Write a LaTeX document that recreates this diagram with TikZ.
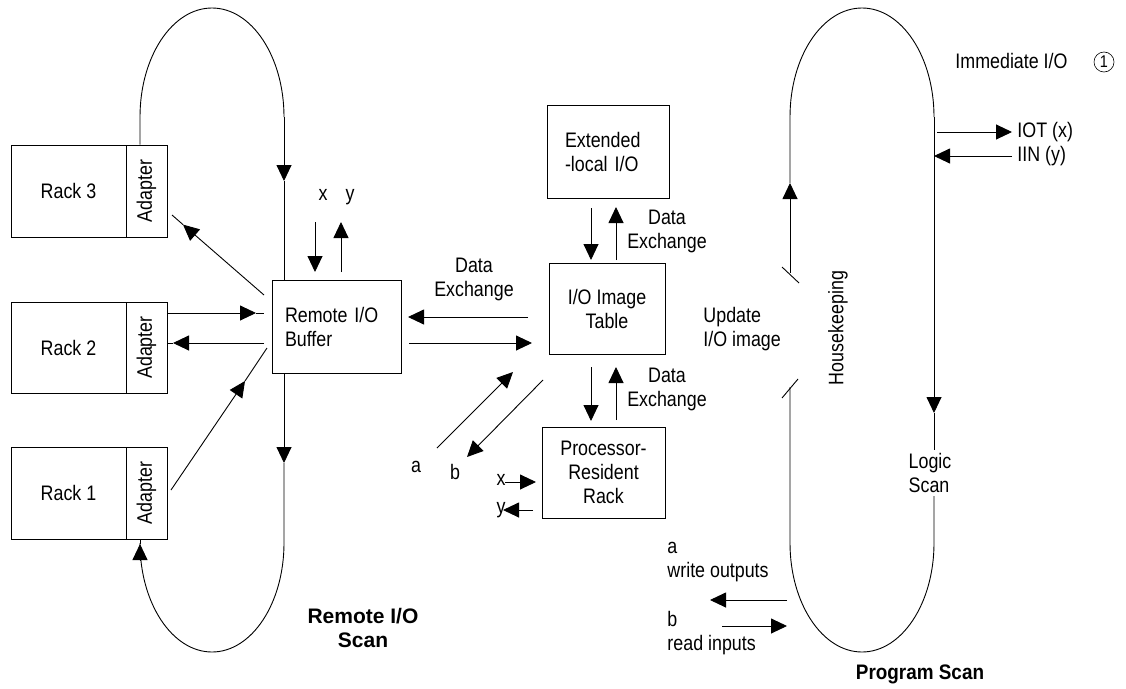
\documentclass[tikz,border=0pt]{standalone}
\usepackage{fontspec}
\setmainfont[FakeStretch=0.85]{Liberation Sans}
\newfontfamily\boldA{Liberation Sans Bold}
\newfontfamily\boldB[FakeStretch=0.9]{Liberation Sans Bold}
\usetikzlibrary{arrows.meta}
\begin{document}
\begin{tikzpicture}[x=1pt,y=-1pt,
  font=\fontsize{21}{24}\selectfont,
  line width=0.9pt,
  box/.style={draw, rectangle, inner sep=0pt, align=center},
  arr/.style={-{Triangle[length=16pt,width=15pt]}},
  lbl/.style={inner sep=0pt}]
\useasboundingbox (0,0) rectangle (1126,688);

% ---------- racks ----------
\node[box, minimum width=115pt, minimum height=92pt] (r3) at (68.5,191) {Rack 3};
\node[box, minimum width=41pt, minimum height=92pt] (a3) at (146.5,191) {\rotatebox{90}{Adapter}};
\node[box, minimum width=115pt, minimum height=91pt] (r2) at (68.5,347.5) {Rack 2};
\node[box, minimum width=41pt, minimum height=91pt] (a2) at (146.5,347.5) {\rotatebox{90}{Adapter}};
\node[box, minimum width=115pt, minimum height=92pt] (r1) at (68.5,493) {Rack 1};
\node[box, minimum width=41pt, minimum height=92pt] (a1) at (146.5,493) {\rotatebox{90}{Adapter}};

% ---------- central boxes ----------
\node[box, minimum width=129pt, minimum height=93pt, text width=103pt, align=left] (buf) at (336.5,326.5) {Remote I/O\\Buffer};
\node[box, minimum width=122pt, minimum height=93pt, text width=86pt, align=left] (ext) at (608,151.5) {Extended\\-local I/O};
\node[box, minimum width=116pt, minimum height=91pt] (tab) at (607,308.5) {I/O Image\\Table};
\node[box, minimum width=123pt, minimum height=91pt] (proc) at (603.5,472.5) {Processor-\\Resident\\Rack};

% ---------- labels ----------
\node[lbl, anchor=base] (lx) at (323,200) {x};
\node[lbl, anchor=base] (ly) at (350,200) {y};
\node[lbl, align=center] (de1) at (474,279) {Data\\Exchange};
\node[lbl, align=center] (de2) at (667,231) {Data\\Exchange};
\node[lbl, align=center] (de3) at (667,389) {Data\\Exchange};
\node[lbl, align=left, anchor=west] (upd) at (703,329) {Update\\I/O image};
\node[lbl, rotate=90] (hk) at (838,328) {Housekeeping};
\node[align=left, inner sep=3pt] (logic) at (930,473) {Logic\\Scan};
\node[lbl, anchor=base west] (imm) at (955,68) {Immediate I/O};
\node[circle, draw, line width=0.6pt, minimum size=20pt, inner sep=0pt,
      font=\fontsize{17}{20}\selectfont] (one) at (1104,62) {1};
\node[lbl, anchor=base west] (iot) at (1017,137) {IOT (x)};
\node[lbl, anchor=base west] (iin) at (1017,161) {IIN (y)};
\node[lbl, anchor=base] (la) at (416,472) {a};
\node[lbl, anchor=base] (lb) at (455,479) {b};
\node[lbl, anchor=base] (px) at (501,485) {x};
\node[lbl, anchor=base] (py) at (501,513) {y};
\node[lbl, align=left, anchor=west] (wo) at (667,562.5) {a\\write outputs};
\node[lbl, align=left, anchor=west] (ri) at (667,633.5) {b\\read inputs};
\node[lbl, align=center] (ris) at (363,628) {\boldA Remote I/O\\\boldA Scan};
\node[lbl, anchor=base] (ps) at (920,679) {\boldB Program Scan};

% ---------- coordinates ----------
\coordinate (LTl) at (140,117);
\coordinate (LTr) at (284,117);
\coordinate (LTa) at (284,181);
\coordinate (LBa) at (284,463);
\coordinate (LBr) at (284,543);
\coordinate (LBl) at (140,560);
\coordinate (LBa2) at (140,544);
\coordinate (RTl) at (790,117);
\coordinate (RTr) at (934,117);
\coordinate (RTa) at (790,183);
\coordinate (RHs) at (790,273);
\coordinate (RRa) at (934,413);
\coordinate (RBr) at (934,543);
\coordinate (RBl) at (790,543);
\coordinate (RHe) at (790,387);

% ---------- remote I/O scan loop ----------
\draw (a3.north -| LTl) -- (LTl) .. controls (140,56.8) and (172.2,8) .. (212,8)
      .. controls (251.8,8) and (284,56.8) .. (LTr);
\draw[arr] (LTr) -- (LTa);
\draw (LTa) -- (buf.north -| LTa);
\draw[arr] (buf.south -| LBa) -- (LBa);
\draw (LBa) -- (LBr) .. controls (284,603.2) and (251.8,652) .. (212,652)
      .. controls (172.2,652) and (140,603.2) .. (140,543) -- (LBl);
\draw[arr] (LBl) -- (LBa2);
\draw (LBa2) -- (a1.south -| LBa2);

% ---------- rack <-> buffer ----------
\coordinate (b3s) at (264,295);
\coordinate (b3t) at (183,224.6);
\coordinate (b3e) at (172,215);
\draw[arr] (b3s) -- (b3t);
\draw (b3t) -- (b3e);
\coordinate (b2a) at (167,313);
\coordinate (b2at) at (256,313);
\coordinate (b2ae) at (264,313);
\draw[arr] (b2a) -- (b2at);
\draw (b2at) -- (b2ae);
\coordinate (b2b) at (264,343);
\coordinate (b2bt) at (173,343);
\coordinate (b2be) at (167,343);
\draw[arr] (b2b) -- (b2bt);
\draw (b2bt) -- (b2be);
\coordinate (b1s) at (171,490);
\coordinate (b1t) at (245,381);
\coordinate (b1e) at (267,348);
\draw[arr] (b1s) -- (b1t);
\draw (b1t) -- (b1e);

% ---------- x / y at buffer ----------
\draw[arr] (315,222) -- (315,272);
\draw[arr] (341,272) -- (341,222);

% ---------- buffer <-> image table ----------
\draw[arr] (528,317) -- (408,317);
\draw[arr] (409,343) -- (532,343);
\draw[arr] (591,208) -- (591,260);
\draw[arr] (616,260) -- (616,207);
\draw[arr] (591,367) -- (591,421);
\draw[arr] (616,420) -- (616,367);
\draw[arr] (437,448) -- (513,372);
\draw[arr] (543,380) -- (467,457);
\draw[arr] (505,482) -- (536,482);
\draw[arr] (533,510) -- (503,510);

% ---------- program scan loop ----------
\draw (782,267) -- (799,283);
\draw[arr] (RHs) -- (RTa);
\draw (RTa) -- (RTl) .. controls (790,56.8) and (822.2,8) .. (862,8)
      .. controls (901.8,8) and (934,56.8) .. (RTr);
\draw[arr] (RTr) -- (RRa);
\draw (RRa) -- (logic.north -| RRa);
\draw (logic.south -| RBr) -- (RBr) .. controls (934,603.2) and (901.8,652) .. (862,652)
      .. controls (822.2,652) and (790,603.2) .. (RBl) -- (RHe);
\draw (782,398) -- (798,379);

% ---------- immediate I/O ----------
\draw[arr] (937,132) -- (1012,132);
\draw[arr] (1012,156) -- (934,156);

% ---------- write / read ----------
\draw[arr] (787,600) -- (710,600);
\draw[arr] (722,626) -- (787,626);
\end{tikzpicture}
\end{document}
